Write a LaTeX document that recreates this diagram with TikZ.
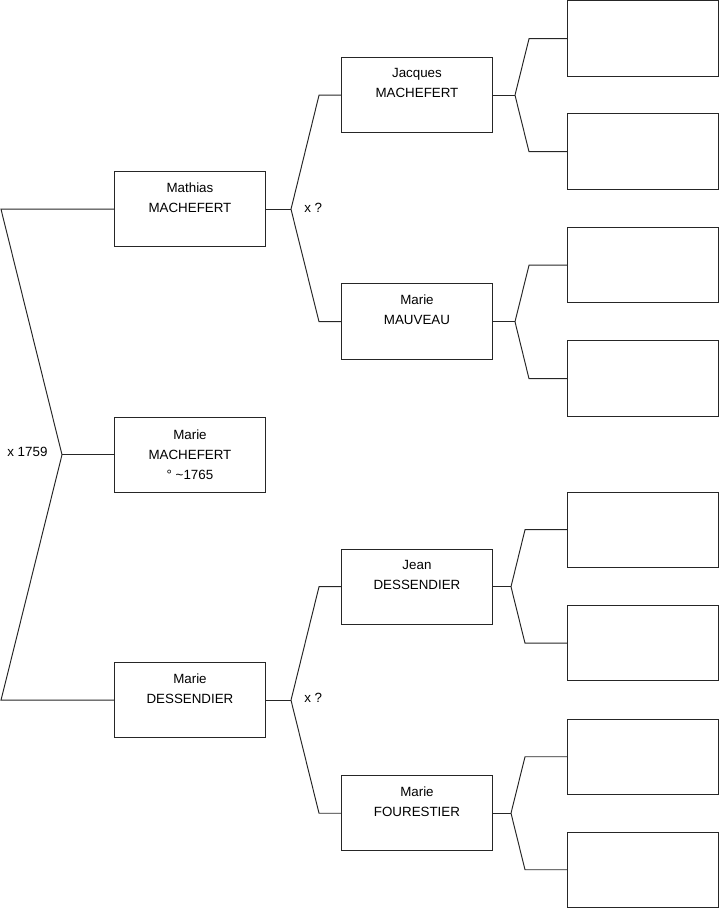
\documentclass[tikz,border=0pt]{standalone}
\usepackage{fontspec}
\setmainfont{Liberation Sans}
\usepackage{tikz}
\usetikzlibrary{positioning}

\begin{document}
\begin{tikzpicture}[
    x=0.02cm, y=-0.02cm,
    every node/.style={font=\fontsize{7.6}{11.4}\selectfont},
    person/.style={rectangle, draw=black!85, line width=0.55pt, minimum width=3.02cm, minimum height=1.51cm, align=center, anchor=north west, inner sep=0pt},
    link/.style={draw=black!85, line width=0.55pt},
    marriage/.style={anchor=west, inner sep=0pt},
]
\useasboundingbox (0,0) rectangle (719,908);
% generation 1
\node[person] (mathias) at (114,171) {Mathias\\MACHEFERT\\[0.08cm]~};
\node[person] (marie) at (114,416.5) {Marie\\MACHEFERT\\° \textasciitilde1765};
\node[person] (dessendier) at (114,662) {Marie\\DESSENDIER\\[0.08cm]~};
% generation 2
\node[person] (jacques) at (341,57) {Jacques\\MACHEFERT\\[0.08cm]~};
\node[person] (mauveau) at (341,283.5) {Marie\\MAUVEAU\\[0.08cm]~};
\node[person] (jean) at (341,548.5) {Jean\\DESSENDIER\\[0.08cm]~};
\node[person] (fourestier) at (341,775) {Marie\\FOURESTIER\\[0.08cm]~};
% generation 3 (empty)
\foreach \n/\y in {1/0.5,2/113.5,3/227,4/340.5,5/491.5,6/605,7/718.5,8/831.5} {
    \node[person] (e\n) at (567,\y) {};
}
% parents of Marie
\coordinate (c1a) at (mathias.west -| 1,0);
\coordinate (c1j) at (marie.west -| 62,0);
\coordinate (c1b) at (dessendier.west -| 1,0);
\draw[link] (mathias.west) -- (c1a) -- (c1j) -- (c1b) -- (dessendier.west);
\draw[link] (c1j) -- (marie.west);
\node[marriage] (m1759) at (7,452) {x 1759};
% parents of Mathias
\coordinate (f1j) at (mathias.east -| 291,0);
\coordinate (f1a) at (jacques.west -| 319,0);
\coordinate (f1b) at (mauveau.west -| 319,0);
\draw[link] (mathias.east) -- (f1j);
\draw[link] (jacques.west) -- (f1a) -- (f1j) -- (f1b) -- (mauveau.west);
\node[marriage] (mf1) at (304,208) {x ?};
% parents of Marie Dessendier
\coordinate (f2j) at (dessendier.east -| 291,0);
\coordinate (f2a) at (jean.west -| 319,0);
\coordinate (f2b) at (fourestier.west -| 319,0);
\draw[link] (dessendier.east) -- (f2j);
\draw[link] (jean.west) -- (f2a) -- (f2j) -- (f2b) -- (fourestier.west);
\node[marriage] (mf2) at (304,698) {x ?};
% generation 3 links
\coordinate (g1j) at (jacques.east -| 515,0);    \coordinate (g1a) at (e1.west -| 529,0); \coordinate (g1b) at (e2.west -| 529,0);
\coordinate (g2j) at (mauveau.east -| 515,0);    \coordinate (g2a) at (e3.west -| 529,0); \coordinate (g2b) at (e4.west -| 529,0);
\coordinate (g3j) at (jean.east -| 511,0);       \coordinate (g3a) at (e5.west -| 525,0); \coordinate (g3b) at (e6.west -| 525,0);
\coordinate (g4j) at (fourestier.east -| 511,0); \coordinate (g4a) at (e7.west -| 525,0); \coordinate (g4b) at (e8.west -| 525,0);
\draw[link] (jacques.east) -- (g1j);
\draw[link] (e1.west) -- (g1a) -- (g1j) -- (g1b) -- (e2.west);
\draw[link] (mauveau.east) -- (g2j);
\draw[link] (e3.west) -- (g2a) -- (g2j) -- (g2b) -- (e4.west);
\draw[link] (jean.east) -- (g3j);
\draw[link] (e5.west) -- (g3a) -- (g3j) -- (g3b) -- (e6.west);
\draw[link] (fourestier.east) -- (g4j);
\draw[link] (e7.west) -- (g4a) -- (g4j) -- (g4b) -- (e8.west);
\end{tikzpicture}
\end{document}
